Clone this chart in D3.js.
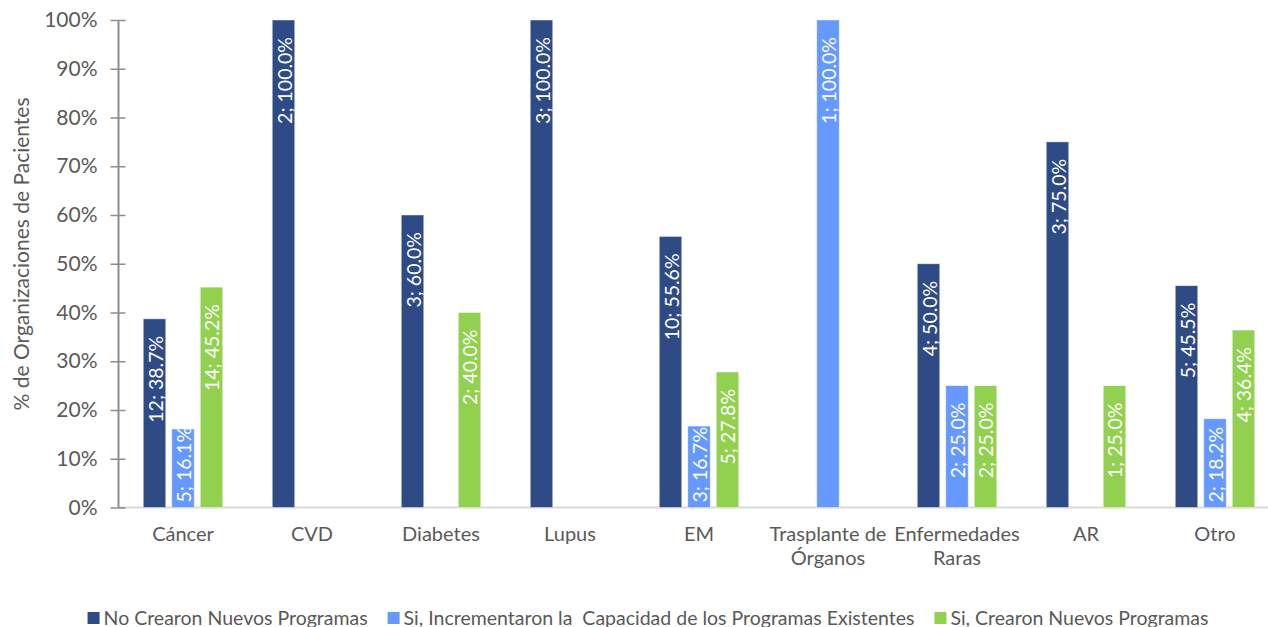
<!DOCTYPE html>
<html>
<head>
<meta charset="utf-8">
<script src="https://cdn.jsdelivr.net/npm/d3@7"></script>
<style>
  html, body { margin: 0; padding: 0; background: #fff; }
  svg { display: block; }
  text { font-family: Lato, "Open Sans", sans-serif; }
</style>
</head>
<body>
<svg id="chart" width="1268" height="627"></svg>
<script>
// Categories (multi-line labels split into lines)
const categories = ["Cáncer", "CVD", "Diabetes", "Lupus", "EM", "Trasplante de Órganos", "Enfermedades Raras", "AR", "Otro"];
const categoryLines = [["Cáncer"], ["CVD"], ["Diabetes"], ["Lupus"], ["EM"], ["Trasplante de", "Órganos"], ["Enfermedades", "Raras"], ["AR"], ["Otro"]];

// Series names
const seriesNames = [
  "No Crearon Nuevos Programas",
  "Si, Incrementaron la  Capacidad de los Programas Existentes",
  "Si, Crearon Nuevos Programas"
];

// Counts (n) per category; null = no response in that group
const noCrearonCount   = [12, 2, 3, 3, 10, null, 4, 3, 5];
const incrementCount   = [5, null, null, null, 3, 1, 2, null, 2];
const crearonCount     = [14, null, 2, null, 5, null, 2, 1, 4];

// Percentages per category
const noCrearonPct     = [38.7, 100.0, 60.0, 100.0, 55.6, null, 50.0, 75.0, 45.5];
const incrementPct     = [16.1, null, null, null, 16.7, 100.0, 25.0, null, 18.2];
const crearonPct       = [45.2, null, 40.0, null, 27.8, null, 25.0, 25.0, 36.4];

const yTicks = [0, 10, 20, 30, 40, 50, 60, 70, 80, 90, 100];
const colors = ["#2E4B85", "#6699FF", "#92D050"];

const counts = [noCrearonCount, incrementCount, crearonCount];
const pcts = [noCrearonPct, incrementPct, crearonPct];

const svg = d3.select("#chart");

const plot = { left: 118.5, right: 1279.5, top: 20, bottom: 507.5 };

const x0 = d3.scaleBand().domain(categories).range([plot.left, plot.right]).padding(0);
const bw = x0.bandwidth();
const x1 = d3.scaleBand().domain(d3.range(3))
  .range([bw / 2 - 39.75, bw / 2 + 39.75])
  .paddingInner(0.2105).paddingOuter(0);
const y = d3.scaleLinear().domain([0, 100]).range([plot.bottom, plot.top]);

// Baseline along the category axis
svg.append("line")
  .attr("x1", plot.left).attr("x2", plot.right)
  .attr("y1", y(0)).attr("y2", y(0))
  .attr("stroke", "#D9D9D9").attr("stroke-width", 2);

// Value axis
const yAxis = d3.axisLeft(y).tickValues(yTicks).tickFormat(d => d + "%").tickSize(0).tickPadding(21);
const yg = svg.append("g").attr("transform", `translate(${plot.left},0)`).call(yAxis);
yg.select(".domain").remove();
yg.selectAll("text").attr("fill", "#595959").style("font-size", "21px").style("font-family", "Lato, sans-serif");
svg.append("line")
  .attr("x1", plot.left).attr("x2", plot.left)
  .attr("y1", y(100)).attr("y2", y(0))
  .attr("stroke", "#8C8C8C").attr("stroke-width", 2);
yg.selectAll(".tick").append("line")
  .attr("x1", -8).attr("x2", 7)
  .attr("stroke", "#8C8C8C").attr("stroke-width", 1.5);

// Axis title
svg.append("text")
  .attr("transform", `translate(29,254) rotate(-90)`)
  .attr("text-anchor", "middle")
  .attr("fill", "#595959")
  .style("font-size", "21px")
  .text("% de Organizaciones de Pacientes");

// Bars
const barData = [];
categories.forEach((c, i) => {
  for (let s = 0; s < 3; s++) {
    if (pcts[s][i] != null) barData.push({ cat: c, s, pct: pcts[s][i], n: counts[s][i] });
  }
});

const bars = svg.append("g");
bars.selectAll("rect").data(barData).join("rect")
  .attr("x", d => x0(d.cat) + x1(d.s))
  .attr("y", d => y(d.pct))
  .attr("width", x1.bandwidth())
  .attr("height", d => y(0) - y(d.pct))
  .attr("fill", d => colors[d.s])
  .attr("stroke", "rgba(255,255,255,0.55)")
  .attr("stroke-width", 0.8);

// Value labels, rotated, anchored near the bar top
const labels = svg.append("g");
labels.selectAll("text").data(barData).join("text")
  .attr("text-anchor", "end")
  .attr("fill", "#fff")
  .style("font-size", "19.5px")
  .text(d => `${d.n}; ${d.pct.toFixed(1)}%`)
  .each(function (d) {
    const len = this.getComputedTextLength();
    const cx = x0(d.cat) + x1(d.s) + x1.bandwidth() / 2;
    let yEnd = y(d.pct) + 17;
    if (yEnd + len > y(0) - 5) yEnd = y(0) - 5 - len;
    d3.select(this)
      .attr("transform", `translate(${cx},${yEnd}) rotate(-90)`)
      .attr("x", 0).attr("y", 8);
  });

// Category labels
const xl = svg.append("g");
categories.forEach((c, i) => {
  const t = xl.append("text")
    .attr("text-anchor", "middle")
    .attr("fill", "#595959")
    .style("font-size", "20px")
    .attr("x", x0(c) + bw / 2)
    .attr("y", 541);
  categoryLines[i].forEach((line, k) => {
    t.append("tspan").attr("x", x0(c) + bw / 2).attr("dy", k === 0 ? 0 : 24).text(line);
  });
});

// Legend
const legend = svg.append("g");
const items = seriesNames.map((name, i) => {
  const g = legend.append("g");
  g.append("rect").attr("width", 12).attr("height", 12).attr("y", 612).attr("fill", colors[i]);
  const t = g.append("text").attr("x", 16).attr("y", 624.5)
    .attr("fill", "#595959").style("font-size", "19.5px").style("white-space", "pre")
    .attr("xml:space", "preserve").text(name);
  return { g, w: 16 + t.node().getComputedTextLength() };
});
const gap = 20;
const total = d3.sum(items, d => d.w) + gap * (items.length - 1);
let lx = 648 - total / 2;
items.forEach(it => { it.g.attr("transform", `translate(${lx},0)`); lx += it.w + gap; });
</script>
</body>
</html>
